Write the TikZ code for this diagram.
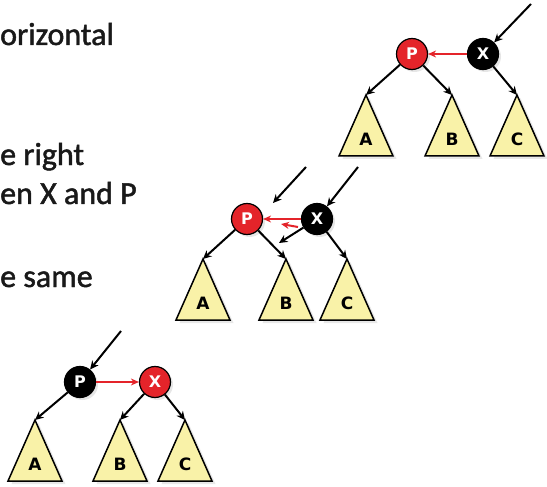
\documentclass[tikz,border=0pt]{standalone}
\usepackage{fontspec}
\setmainfont{Carlito}
\newfontfamily\captionfont[FakeBold=1.5]{Carlito}
\newfontfamily\labelfont{DejaVu Sans}
\usetikzlibrary{arrows.meta,shadows,calc}

\definecolor{nodered}{RGB}{228,36,42}
\definecolor{subtreefill}{RGB}{249,242,168}
\definecolor{captiongray}{RGB}{25,25,25}

\tikzset{
  x=1pt, y=-1pt,
  rbnode/.style={circle, minimum size=31pt, inner sep=0pt, draw=black, line width=1.2pt,
    text=white, font=\labelfont\bfseries\fontsize{16}{16}\selectfont,
    drop shadow={shadow xshift=2.5pt, shadow yshift=-2.5pt, opacity=0.2}},
  rednode/.style={rbnode, fill=nodered},
  blacknode/.style={rbnode, fill=black},
  subtree/.style={draw=black, line width=1.5pt, fill=subtreefill, line join=miter,
    drop shadow={shadow xshift=3.5pt, shadow yshift=-3pt, opacity=0.18}},
  treelabel/.style={font=\labelfont\bfseries\fontsize{17}{17}\selectfont, inner sep=0pt},
  link/.style={draw=black, line width=2pt, -{Stealth[length=8.5pt,width=8pt]}},
  redlink/.style={draw=nodered, line width=1.6pt, -{Stealth[length=8pt,width=7pt]}},
  caption/.style={anchor=base west, inner sep=0pt, text=captiongray,
    font=\captionfont\fontsize{32}{32}\selectfont},
}

% subtree triangle: \subtree{name}{x}{y}{label}, (x,y) is the apex
\newcommand{\subtree}[4]{%
  \coordinate (#1) at (#2,#3);
  \path[subtree] (#1) -- ++(-27,61) -- ++(54,0) -- cycle;
  \node[treelabel] (#1-lbl) at ($(#1)+(0,44)$) {#4};
}

\begin{document}
\begin{tikzpicture}
\useasboundingbox (0,0) rectangle (547,487);
\clip (0,0) rectangle (547,487);

% caption lines at the left edge
\node[caption] (cap1) at (0,45) {orizontal};
\node[caption] (cap2) at (0,165) {e right};
\node[caption] (cap3) at (0,204) {en X and P};
\node[caption] (cap4) at (0,287) {e same};

% ---- first stage: P red, X black ----
\subtree{ta1}{366}{95}{A}
\subtree{tb1}{452}{95}{B}
\subtree{tc1}{517}{95}{C}
\node[rednode] (p1) at (412,54) {P};
\node[blacknode] (x1) at (483,54) {X};
\coordinate (in1) at (531,4);
\draw[link] (in1) -- (x1);
\draw[redlink, line width=1.3pt] (x1) -- (p1);
\draw[link] (p1) -- (ta1);
\draw[link] (p1) -- (tb1);
\draw[link] (x1) -- (tc1);

% ---- second stage: links being swapped ----
\subtree{ta2}{203}{259}{A}
\subtree{tb2}{286}{259}{B}
\subtree{tc2}{347}{259}{C}
\node[rednode] (p2) at (247,219) {P};
\node[blacknode] (x2) at (317,219) {X};
\coordinate (in2a) at (306,167);
\coordinate (in2ae) at (273,203);
\coordinate (in2b) at (358,167);
\coordinate (sw2) at (279,243);
\coordinate (rs2) at (298,227);
\coordinate (re2) at (281,224);
\draw[link] (in2a) -- (in2ae);
\draw[link] (in2b) -- (x2);
\draw[redlink, line width=2.8pt] (x2) -- (p2);
\draw[redlink, line width=2pt] (rs2) -- (re2);
\draw[link] (x2) -- (sw2);
\draw[link] (p2) -- (ta2);
\draw[link] (p2) -- (tb2);
\draw[link] (x2) -- (tc2);

% ---- third stage: P black, X red ----
\subtree{ta3}{35}{420}{A}
\subtree{tb3}{120}{420}{B}
\subtree{tc3}{185}{420}{C}
\node[blacknode] (p3) at (80,382) {P};
\node[rednode] (x3) at (155,382) {X};
\coordinate (in3) at (121,331);
\draw[link] (in3) -- (p3);
\draw[redlink, line width=1.3pt] (p3) -- (x3);
\draw[link] (p3) -- (ta3);
\draw[link] (x3) -- (tb3);
\draw[link] (x3) -- (tc3);
\end{tikzpicture}
\end{document}
